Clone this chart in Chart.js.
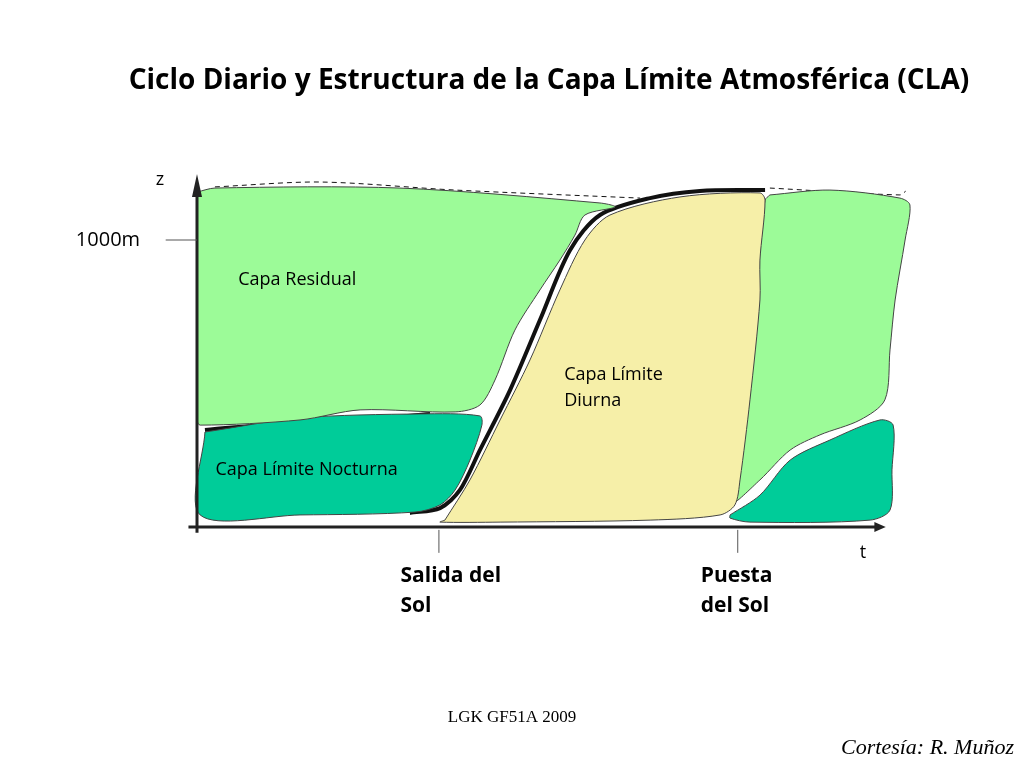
<!DOCTYPE html>
<html><head><meta charset="utf-8">
<script src="https://cdn.jsdelivr.net/npm/chart.js@4/dist/chart.umd.min.js"></script>
<style>html,body{margin:0;padding:0;background:#fff}</style>
</head><body><canvas id="c" width="1024" height="768" style="width:1024px;height:768px;display:block"></canvas>
<script>
// time in hours (x), height in km (z)
const residualMorning=[[0,1.167],[0.63,1.181],[7.13,1.181],[14.16,1.129],[14.69,1.115],[13.63,1.087],[13.28,1.017],[12.75,0.93],[12.05,0.826],[11.17,0.686],[10.47,0.512],[9.94,0.425],[9.07,0.401],[5.73,0.408],[3.62,0.373],[0.11,0.355],[0,0.373]];
const nocturnalMorning=[[0.28,0.331],[3.62,0.38],[7.84,0.394],[9.94,0.387],[10.01,0.355],[9.59,0.233],[9.07,0.129],[8.54,0.077],[7.66,0.052],[3.62,0.042],[0.11,0.042]];
const diurnal=[[8.71,0.024],[9.59,0.164],[10.65,0.373],[11.7,0.582],[12.75,0.826],[13.63,1.0],[14.51,1.087],[16.97,1.15],[19.78,1.164],[19.96,1.139],[19.78,0.93],[19.78,0.791],[19.43,0.443],[19.08,0.164],[18.9,0.077],[18.38,0.042],[15.92,0.024],[10.65,0.017],[8.54,0.017]];
const residualEvening=[[20.13,1.157],[22.24,1.174],[24.7,1.146],[25.05,1.122],[24.88,1.0],[24.53,0.791],[24.35,0.617],[24.17,0.443],[23.3,0.373],[21.89,0.321],[20.84,0.268],[19.78,0.164],[18.73,0.077],[18.9,0.164],[19.26,0.443],[19.61,0.721],[19.78,0.965],[19.96,1.139]];
const nocturnalEvening=[[18.73,0.042],[19.78,0.111],[20.84,0.233],[22.24,0.303],[24.0,0.373],[24.46,0.355],[24.42,0.199],[24.35,0.059],[23.65,0.024],[19.43,0.017],[18.73,0.031]];
const growthLine=[[7.48,0.049],[8.54,0.066],[9.24,0.129],[9.94,0.268],[11.0,0.477],[12.05,0.721],[13.11,0.965],[14.16,1.087],[15.92,1.146],[17.67,1.171],[19.96,1.174]];
const nightTopLine=[[0.28,0.338],[3.62,0.366],[5.73,0.373],[8.19,0.394]];
const dashedTop1=[[0.63,1.185],[4.32,1.202],[9.07,1.174],[15.57,1.146]];
const dashedTop2=[[20.13,1.181],[24.7,1.157],[24.9,1.17]];
const sunrise=8.5, sunset=19.0, refHeight=1.0;
const labels=[["Capa Residual",1.45,0.86],["Capa Límite",12.9,0.53],["Diurna",12.9,0.44],["Capa Límite Nocturna",0.65,0.2]];

const pts=a=>a.map(p=>({x:p[0],y:p[1]}));
const closed=a=>pts(a.concat([a[0]]));
const shape=(d,c)=>({data:closed(d),showLine:true,fill:'shape',backgroundColor:c,borderColor:'#444',borderWidth:1,pointRadius:0,tension:0.3});
const line=(d,w,dash)=>({data:pts(d),showLine:true,fill:false,borderColor:'#111',borderWidth:w,borderDash:dash||[],pointRadius:0,tension:0.3});

const deco={id:'deco',afterDatasetsDraw(ch){
 const g=ch.ctx,X=ch.scales.x,Y=ch.scales.y;
 const px=v=>X.getPixelForValue(v),py=v=>Y.getPixelForValue(v);
 g.save();g.strokeStyle='#222';g.fillStyle='#222';g.lineWidth=3;
 g.beginPath();g.moveTo(px(0),py(-0.02));g.lineTo(px(0),py(1.15));g.stroke();
 g.beginPath();g.moveTo(px(-0.3),py(0));g.lineTo(px(23.9),py(0));g.stroke();
 g.beginPath();g.moveTo(px(0),py(1.23));g.lineTo(px(0)-5,py(1.15));g.lineTo(px(0)+5,py(1.15));g.fill();
 g.beginPath();g.moveTo(px(24.2),py(0));g.lineTo(px(23.8),py(0)-5);g.lineTo(px(23.8),py(0)+5);g.fill();
 g.lineWidth=1;g.strokeStyle='#555';
 g.beginPath();g.moveTo(px(-1.1),py(refHeight));g.lineTo(px(0),py(refHeight));
 g.moveTo(px(sunrise),py(-0.01));g.lineTo(px(sunrise),py(-0.09));
 g.moveTo(px(sunset),py(-0.01));g.lineTo(px(sunset),py(-0.09));g.stroke();
 g.fillStyle='#000';g.textBaseline='middle';
 g.font='20px "Open Sans", Calibri, sans-serif';
 g.textAlign='right';g.fillText('1000m',px(-2),py(refHeight));
 g.font='18px "Open Sans", sans-serif';
 g.textAlign='center';g.fillText('z',px(-1.3),py(1.21));g.fillText('t',px(23.4),py(-0.09));
 g.textAlign='left';
 labels.forEach(l=>g.fillText(l[0],px(l[1]),py(l[2])));
 g.font='bold 21px "Open Sans", sans-serif';
 g.fillText('Salida del',px(7.15),py(-0.17));g.fillText('Sol',px(7.15),py(-0.275));
 g.fillText('Puesta',px(17.7),py(-0.17));g.fillText('del Sol',px(17.7),py(-0.275));
 g.font='bold 28px "Open Sans", sans-serif';g.textAlign='center';
 g.fillText('Ciclo Diario y Estructura de la Capa Límite Atmosférica (CLA)',549,81);
 g.font='17px "Liberation Serif", serif';g.fillText('LGK GF51A 2009',512,718);
 g.font='italic 22px "Liberation Serif", serif';g.textAlign='right';g.fillText('Cortesía: R. Muñoz',1014,748);
 g.restore();}};

new Chart(document.getElementById('c'),{type:'scatter',
 data:{datasets:[shape(residualMorning,'#9CFB98'),shape(nocturnalMorning,'#00CC99'),shape(diurnal,'#F6EFA8'),
  shape(residualEvening,'#9CFB98'),shape(nocturnalEvening,'#00CC99'),
  line(growthLine,4),line(nightTopLine,4),line(dashedTop1,1,[5,4]),line(dashedTop2,1,[5,4])]},
 options:{responsive:false,animation:false,devicePixelRatio:1,layout:{padding:0},
  plugins:{legend:{display:false},tooltip:{enabled:false}},
  scales:{x:{type:'linear',display:false,min:-197/28.46,max:(1024-197)/28.46},
          y:{type:'linear',display:false,min:-241/287,max:527/287}}},
 plugins:[deco]});
</script>
</body></html>
